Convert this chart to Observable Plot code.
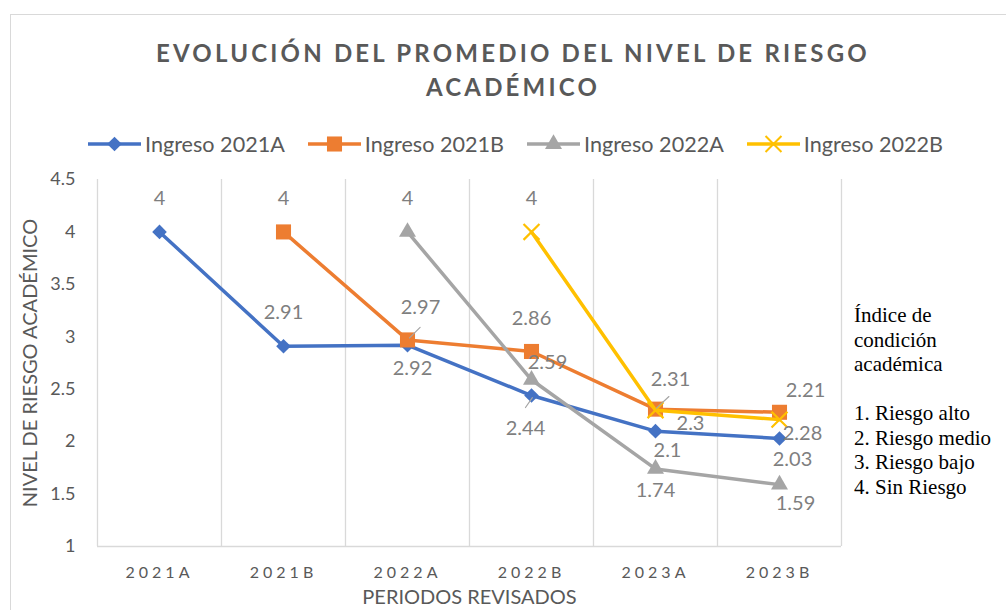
<!DOCTYPE html>
<html><head><meta charset="utf-8">
<script src="https://cdn.jsdelivr.net/npm/d3@7"></script>
<script src="https://cdn.jsdelivr.net/npm/@observablehq/plot@0.6"></script>
<style>
body{margin:0;background:#fff;}
#wrap{position:relative;width:1006px;height:610px;overflow:hidden;font-family:Lato,sans-serif;}
#frame{position:absolute;left:10px;top:14px;width:1100px;height:700px;border:1px solid #d9d9d9;box-sizing:border-box;}
#chart{position:absolute;left:0;top:0;}
#title{position:absolute;left:10px;width:1006px;top:36px;text-align:center;font-weight:bold;font-size:24px;letter-spacing:3.2px;color:#595959;line-height:34px;}
#legend{position:absolute;left:88px;top:133px;height:22px;display:flex;align-items:center;gap:23px;font-size:21.6px;color:#595959;}
#legend .item{display:flex;align-items:center;white-space:nowrap;}
#legend svg{margin-right:4px;}
#note{position:absolute;left:854px;top:303px;font-family:"Liberation Serif",serif;font-size:21px;line-height:24.5px;color:#000;white-space:pre;}
g[aria-label="x-axis tick label"] text{letter-spacing:4px;}
</style>
</head><body>
<div id="wrap">
  <div id="frame"></div>
  <div id="chart"></div>
  <div id="title"></div>
  <div id="legend"></div>
  <div id="note"></div>
</div>
<script>
const titleLines = ["EVOLUCIÓN DEL PROMEDIO DEL NIVEL DE RIESGO", "ACADÉMICO"];
const periods = ["2021A","2021B","2022A","2022B","2023A","2023B"];
const seriesNames = ["Ingreso 2021A","Ingreso 2021B","Ingreso 2022A","Ingreso 2022B"];
const ingreso2021A = [4, 2.91, 2.92, 2.44, 2.1, 2.03];
const ingreso2021B = [null, 4, 2.97, 2.86, 2.31, 2.28];
const ingreso2022A = [null, null, 4, 2.59, 1.74, 1.59];
const ingreso2022B = [null, null, null, 4, 2.3, 2.21];
const yTicks = [1, 1.5, 2, 2.5, 3, 3.5, 4, 4.5];
const axisTitleY = "NIVEL DE RIESGO ACADÉMICO";
const axisTitleX = "PERIODOS REVISADOS";
const noteLines = ["Índice de", "condición", "académica", "", "1. Riesgo alto", "2. Riesgo medio", "3. Riesgo bajo", "4. Sin Riesgo"];

// styling
const seriesValues = [ingreso2021A, ingreso2021B, ingreso2022A, ingreso2022B];
const seriesStyle = [
  {color:"#4472C4", symbol:"diamond2", r:6.6, d3sym:d3.symbolDiamond2},
  {color:"#ED7D31", symbol:"square", r:8.5, d3sym:d3.symbolSquare},
  {color:"#A5A5A5", symbol:"triangle", r:6.3, d3sym:d3.symbolTriangle},
  {color:"#FFC000", symbol:"times", r:7.3, d3sym:d3.symbolTimes, stroked:true}
];
// data label offsets in pixels (dx, dy) per point
const labelOffsets = [
  [[0,-33],[0,-34],[5,23],[-6,33],[12,19],[13,21]],
  [null,[0,-33],[13,-32],[0,-33],[15,-30],[23,21]],
  [null,null,[0,-33],[16,-17],[0,22],[16,19]],
  [null,null,null,[0,-33],[35,13],[26,-29]]
];
// leader lines: [series, period, dx, dy, length, rotate]
const leaders = [
  [1, 2, 2, -2, 15, 45],
  [0, 3, -6, 12, 12, 35],
  [1, 4, 1, -1, 17, 47]
];

document.getElementById("title").innerHTML = titleLines.map(t=>`<div>${t}</div>`).join("");
document.getElementById("note").textContent = noteLines.join("\n");

// legend
const legend = d3.select("#legend");
seriesNames.forEach((name, k) => {
  const s = seriesStyle[k];
  const item = legend.append("div").attr("class","item");
  const svg = item.append("svg").attr("width",53).attr("height",22);
  svg.append("line").attr("x1",0).attr("x2",53).attr("y1",11).attr("y2",11)
    .attr("stroke",s.color).attr("stroke-width",3.5);
  svg.append("path").attr("transform","translate(26.5,11)")
    .attr("d", d3.symbol(s.d3sym, Math.PI*s.r*s.r)())
    .attr("fill", s.stroked ? "none" : s.color)
    .attr("stroke", s.stroked ? s.color : "none").attr("stroke-width",2);
  item.append("span").text(name);
});

function buildMarks(leaderShape) {
  const marks = [
    Plot.gridX(d3.range(-0.5, 6, 1), {stroke:"#d9d9d9", strokeOpacity:1, strokeWidth:1.3}),
    Plot.ruleY([1], {stroke:"#d9d9d9", strokeWidth:1.3}),
    Plot.axisX(d3.range(periods.length), {tickSize:0, tickPadding:20, tickFormat:i=>periods[i], fontSize:16, color:"#595959", label:null}),
    Plot.axisY(yTicks, {tickSize:0, tickPadding:22, tickFormat:d=>String(d), fontSize:18, color:"#595959", label:null}),
    Plot.text([axisTitleY], {frameAnchor:"left", textAnchor:"middle", rotate:-90, dx:-67, fontSize:20, fill:"#595959"}),
    Plot.text([axisTitleX], {frameAnchor:"bottom", textAnchor:"middle", dy:57, fontSize:20, fill:"#595959"})
  ];
  seriesValues.forEach((vals, k) => {
    const s = seriesStyle[k];
    const rows = vals.map((v,i)=>({i, v})).filter(d=>d.v!=null);
    marks.push(Plot.line(rows, {x:"i", y:"v", stroke:s.color, strokeWidth:3.5}));
    if (s.stroked) marks.push(Plot.dot(rows, {x:"i", y:"v", symbol:s.symbol, r:s.r, stroke:s.color, strokeWidth:2.2, fill:"none"}));
    else marks.push(Plot.dot(rows, {x:"i", y:"v", symbol:s.symbol, r:s.r, fill:s.color, stroke:"none"}));
  });
  if (leaderShape) {
    leaders.forEach(([k, i, dx, dy, length, rotate]) => {
      marks.push(Plot.vector([{i, v: seriesValues[k][i]}], {x:"i", y:"v", dx, dy, length, rotate, anchor:"start",
        shape: leaderShape, r: 0.6, stroke:"#a5a5a5", fill:"#a5a5a5", strokeWidth:1.2}));
    });
  }
  seriesValues.forEach((vals, k) => {
    vals.forEach((v, i) => {
      if (v == null) return;
      const [dx, dy] = labelOffsets[k][i];
      marks.push(Plot.text([{i, v}], {x:"i", y:"v", text:d=>String(d.v), dx, dy, fontSize:20, fill:"#7f7f7f"}));
    });
  });
  return marks;
}

function render(leaderShape) {
  return Plot.plot({
    width:1006, height:610,
    marginTop:179, marginBottom:64, marginLeft:97, marginRight:165,
    x:{domain:[-0.5, 5.5], axis:null},
    y:{domain:[1, 4.5], axis:null},
    style:{fontFamily:"Lato, sans-serif", background:"transparent", overflow:"visible"},
    marks: buildMarks(leaderShape)
  });
}

const lineShape = {draw(context, l) { context.moveTo(0, 0); context.lineTo(0, -l); }};
let plot;
try { plot = render(lineShape); }
catch (e) {
  try { plot = render("spike"); } catch (e2) { plot = render(null); }
}
document.getElementById("chart").append(plot);
</script>
</body></html>
